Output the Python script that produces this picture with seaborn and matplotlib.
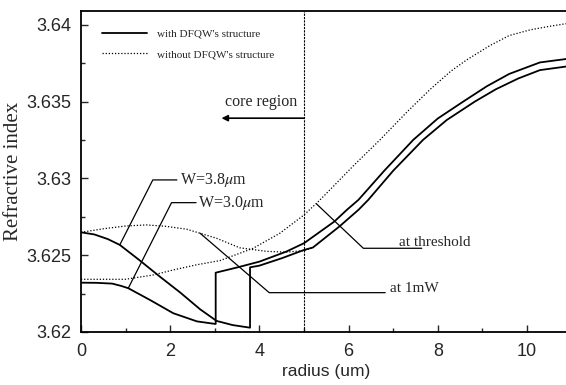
import matplotlib.pyplot as plt
import seaborn as sns

# Refractive index profiles (radius in um).
# W=3.0 um, with DFQW structure (solid, step at the well edge)
w30_x = [0, 0.35, 0.7, 0.9, 1.06, 1.55, 2.07, 2.6, 3.02, 3.02, 3.5, 4.0, 4.6, 5.0, 5.68, 5.96,
         6.22, 6.8, 7.45, 8.0, 8.57, 9.1, 9.6, 10.29, 10.87, 11.0]
w30_y = [3.62321, 3.6232, 3.62315, 3.623, 3.62285, 3.62208, 3.62122, 3.62069, 3.62052, 3.62386,
         3.6242, 3.62458, 3.62523, 3.62578, 3.62719, 3.62795, 3.6286, 3.6305, 3.63251, 3.6339,
         3.635, 3.636, 3.6368, 3.63755, 3.63777, 3.6378]

# W=3.8 um, with DFQW structure (solid)
w38_x = [0, 0.3, 0.6, 0.87, 1.3, 1.77, 2.22, 2.67, 3.04, 3.4, 3.79, 3.79, 4.0, 4.5, 5.0, 5.2,
         5.79, 6.22, 6.44, 7.0, 7.67, 8.2, 8.83, 9.3, 9.8, 10.29, 10.87, 11.0]
w38_y = [3.62649, 3.62635, 3.62605, 3.62567, 3.6247, 3.6236, 3.62258, 3.62148, 3.62072, 3.62045,
         3.62028, 3.62421, 3.62432, 3.6248, 3.62534, 3.6255, 3.62686, 3.62795, 3.6286, 3.6305,
         3.63251, 3.6338, 3.635, 3.6358, 3.6365, 3.63705, 3.63728, 3.6373]

# Without DFQW structure (dotted)
nodf_a_x = [0, 0.5, 1.0, 1.47, 1.9, 2.37, 2.67, 3.04, 3.56, 4.16, 4.6, 5.0, 5.2]
nodf_a_y = [3.62649, 3.62672, 3.6269, 3.62697, 3.62688, 3.62669, 3.62643, 3.6261, 3.62548,
            3.62525, 3.6252, 3.6253, 3.6255]

nodf_b_x = [0, 0.99, 1.6, 2.07, 2.6, 3.12, 3.86, 4.46, 5.0, 5.32, 5.58, 6.1, 6.7, 7.3, 7.83,
            8.3, 8.65, 9.17, 9.6, 10.07, 10.5, 10.85, 11.0]
nodf_b_y = [3.62343, 3.62343, 3.6237, 3.62404, 3.62438, 3.62465, 3.62545, 3.62643, 3.62762,
            3.62849, 3.62925, 3.6308, 3.6325, 3.6343, 3.6358, 3.637, 3.63772, 3.63865,
            3.6393, 3.63967, 3.6399, 3.64006, 3.6401]

sns.set_style("ticks")
plt.rcParams["font.family"] = ["Liberation Serif", "DejaVu Serif"]
plt.rcParams["mathtext.fontset"] = "stix"

fig = plt.figure(figsize=(5.66, 3.85), dpi=100)
ax = fig.add_axes([0.1431, 0.1377, 0.8668, 0.8338])

solid = dict(color="black", lw=1.3, estimator=None, sort=False, ax=ax)
dotted = dict(color="black", lw=0.9, linestyle=(0, (1, 1.5)), estimator=None, sort=False, ax=ax)

sns.lineplot(x=w30_x, y=w30_y, **solid)
sns.lineplot(x=w38_x, y=w38_y, **solid)
sns.lineplot(x=nodf_a_x, y=nodf_a_y, **dotted)
sns.lineplot(x=nodf_b_x, y=nodf_b_y, **dotted)

ax.set_xlim(0, 11)
ax.set_ylim(3.62, 3.6409)
ax.set_xticks([0, 2, 4, 6, 8, 10])
ax.set_xticks([1, 3, 5, 7, 9], minor=True)
ax.set_yticks([3.62, 3.625, 3.63, 3.635, 3.64])
ax.set_yticks([3.6225, 3.6275, 3.6325, 3.6375], minor=True)
ax.set_yticklabels(["3.62", "3.625", "3.63", "3.635", "3.64"])
ax.tick_params(which="both", direction="in", width=1.0, labelsize=13)
ax.tick_params(which="major", length=5, pad=7)
ax.tick_params(which="minor", length=3)
for lab in ax.get_xticklabels() + ax.get_yticklabels():
    lab.set_family(["Liberation Sans", "DejaVu Sans"])
ax.tick_params(axis="x", pad=8)
for side in ["left", "bottom", "top", "right"]:
    ax.spines[side].set_linewidth(1.3)
    ax.spines[side].set_color("black")

ax.set_xlabel("radius (um)", family=["Liberation Sans", "DejaVu Sans"], fontsize=12.5, labelpad=3)
ax.set_ylabel("Refractive index", fontsize=15, labelpad=2)

# Core region boundary and arrow
ax.axvline(5, color="black", lw=0.8, linestyle=(0, (2, 1)))
ax.annotate("", xy=(3.15, 3.63392), xytext=(5.0, 3.63392),
            arrowprops=dict(arrowstyle="-|>", color="black", lw=1.2, mutation_scale=9,
                            shrinkA=0, shrinkB=0))
ax.text(4.04, 3.635, "core region", ha="center", va="center", fontsize=11.5)

# Leader lines and labels
lead = dict(color="black", lw=0.9)
ax.plot([0.87, 1.61, 2.15], [3.62567, 3.6299, 3.6299], **lead)
ax.text(2.22, 3.6299, r"W=3.8$\mu$m", ha="left", va="center", fontsize=11.5)
ax.plot([1.06, 2.03, 2.58], [3.62285, 3.62842, 3.62842], **lead)
ax.text(2.62, 3.62842, r"W=3.0$\mu$m", ha="left", va="center", fontsize=11.5)
ax.plot([2.67, 4.22, 6.82], [3.62643, 3.62256, 3.62256], **lead)
ax.text(6.93, 3.62262, "at 1mW", ha="left", va="baseline", fontsize=11)
ax.plot([5.28, 6.33, 7.64], [3.62834, 3.62545, 3.62545], **lead)
ax.text(7.13, 3.6256, "at threshold", ha="left", va="baseline", fontsize=11)

handles = [ax.lines[0], ax.lines[2]]
ax.legend(handles, ["with DFQW's structure", "without DFQW's structure"],
          loc="upper left", bbox_to_anchor=(0.042, 0.945), frameon=False, fontsize=8,
          handlelength=4.1, handletextpad=0.9, labelspacing=1.0, borderpad=0,
          borderaxespad=0)

fig.savefig("out.png", dpi=100)
